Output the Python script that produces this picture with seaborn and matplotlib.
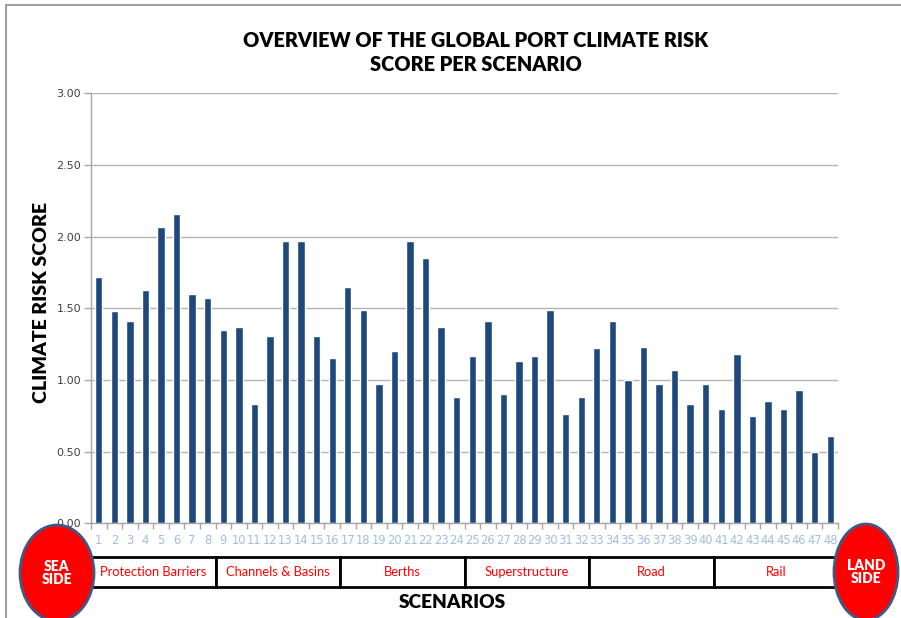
import matplotlib
matplotlib.use("Agg")
import matplotlib.pyplot as plt
import matplotlib.patches as mpatches
import matplotlib.transforms as mtransforms
from matplotlib.lines import Line2D
from matplotlib.ticker import FixedLocator
import pandas as pd
import seaborn as sns

# Scenario numbers and their climate risk scores
scenarios = [str(i) for i in range(1, 49)]
scores = [1.72, 1.48, 1.41, 1.63, 2.07, 2.16, 1.60, 1.57,
          1.35, 1.37, 0.83, 1.31, 1.97, 1.97, 1.31, 1.15,
          1.65, 1.49, 0.97, 1.20, 1.97, 1.85, 1.37, 0.88,
          1.17, 1.41, 0.90, 1.13, 1.17, 1.49, 0.76, 0.88,
          1.22, 1.41, 1.00, 1.23, 0.97, 1.07, 0.83, 0.97,
          0.80, 1.18, 0.75, 0.85, 0.80, 0.93, 0.50, 0.61]

# Infrastructure groups, eight scenarios each
group_names = ["Protection Barriers", "Channels & Basins", "Berths",
               "Superstructure", "Road", "Rail"]
group_size = 8

y_ticks = [0.0, 0.5, 1.0, 1.5, 2.0, 2.5, 3.0]

W, H = 901, 618
sns.set_theme(style="white")
plt.rcParams["font.family"] = ["DejaVu Sans"]
HEAD = ["Lato", "DejaVu Sans"]

fig = plt.figure(figsize=(W / 100, H / 100), dpi=100)
ax = fig.add_axes([91 / W, 1 - 523.3 / H, (838 - 91) / W, 430 / H])

df = pd.DataFrame({"scenario": scenarios, "score": scores})
sns.barplot(data=df, x="scenario", y="score", color="#1F497D",
            saturation=1, width=0.47, ax=ax, zorder=3)

ax.set_xlim(-0.5, len(scenarios) - 0.5)
ax.set_ylim(0, 3.0)
ax.set_yticks(y_ticks)
ax.set_yticklabels([f"{v:.2f}" for v in y_ticks])
ax.yaxis.grid(True, color="#b3b3b3", linewidth=1.0, zorder=0)
ax.xaxis.grid(False)
ax.set_xlabel("")
ax.set_ylabel("")

for side in ("top", "right"):
    ax.spines[side].set_visible(False)
for side in ("left", "bottom"):
    ax.spines[side].set_color("#a6a6a6")
    ax.spines[side].set_linewidth(1.0)

ax.tick_params(axis="y", left=True, length=5, width=1, color="#a6a6a6",
               labelsize=8, labelcolor="#404040", pad=2)
ax.tick_params(axis="x", which="major", length=0, labelsize=8.3,
               labelcolor="#a3bde0", pad=8)
ax.xaxis.set_minor_locator(FixedLocator([i - 0.5 for i in range(len(scenarios) + 1)]))
ax.tick_params(axis="x", which="minor", bottom=True, length=4, width=1,
               color="#a6a6a6")

# Title and axis titles
fig.text(476 / W, 1 - 52.5 / H,
         "OVERVIEW OF THE GLOBAL PORT CLIMATE RISK\nSCORE PER SCENARIO",
         ha="center", va="center", fontsize=14.3, fontweight="heavy",
         family=HEAD, linespacing=1.3, color="black")
fig.text(42 / W, 1 - 302 / H, "CLIMATE RISK SCORE", rotation=90,
         ha="center", va="center", fontsize=14, fontweight="heavy",
         family=HEAD, color="black")
fig.text(452 / W, 1 - 603 / H, "SCENARIOS", ha="center", va="center",
         fontsize=13.8, fontweight="heavy", family=HEAD, color="black")

# Group boxes beneath the scenario numbers
box_tr = mtransforms.blended_transform_factory(ax.transData, fig.transFigure)
y0 = 1 - 587 / H
y1 = 1 - 557 / H
for g, name in enumerate(group_names):
    x0 = g * group_size - 0.5
    rect = mpatches.Rectangle((x0, y0), group_size, y1 - y0, transform=box_tr,
                              facecolor="white", edgecolor="black",
                              linewidth=2, clip_on=False, zorder=4)
    fig.add_artist(rect)
    fig.text(x0 + group_size / 2, (y0 + y1) / 2, name, transform=box_tr,
             ha="center", va="center", color="#ff0000", fontsize=9.3,
             family=HEAD, zorder=5)

# Sea side / land side markers
for cx, cy, ew, eh, label in [(57, 573, 74, 96, "SEA\nSIDE"),
                              (866, 572, 64, 96, "LAND\nSIDE")]:
    ell = mpatches.Ellipse((cx / W, 1 - cy / H), ew / W, eh / H,
                           transform=fig.transFigure, facecolor="#ff0000",
                           edgecolor="#3d5a87", linewidth=2, zorder=6)
    fig.add_artist(ell)
    fig.text(cx / W, 1 - cy / H, label, ha="center", va="center",
             color="white", fontsize=10, fontweight="heavy", family=HEAD,
             linespacing=1.05, zorder=7)

# Outer frame lines along the top and left edges
fig.add_artist(Line2D([6 / W, 1.0], [1 - 5 / H, 1 - 5 / H],
                      transform=fig.transFigure, color="#9e9e9e", linewidth=1.5))
fig.add_artist(Line2D([6 / W, 6 / W], [0.0, 1 - 5 / H],
                      transform=fig.transFigure, color="#9e9e9e", linewidth=1.5))

fig.savefig("out.png", dpi=100, facecolor="white")
